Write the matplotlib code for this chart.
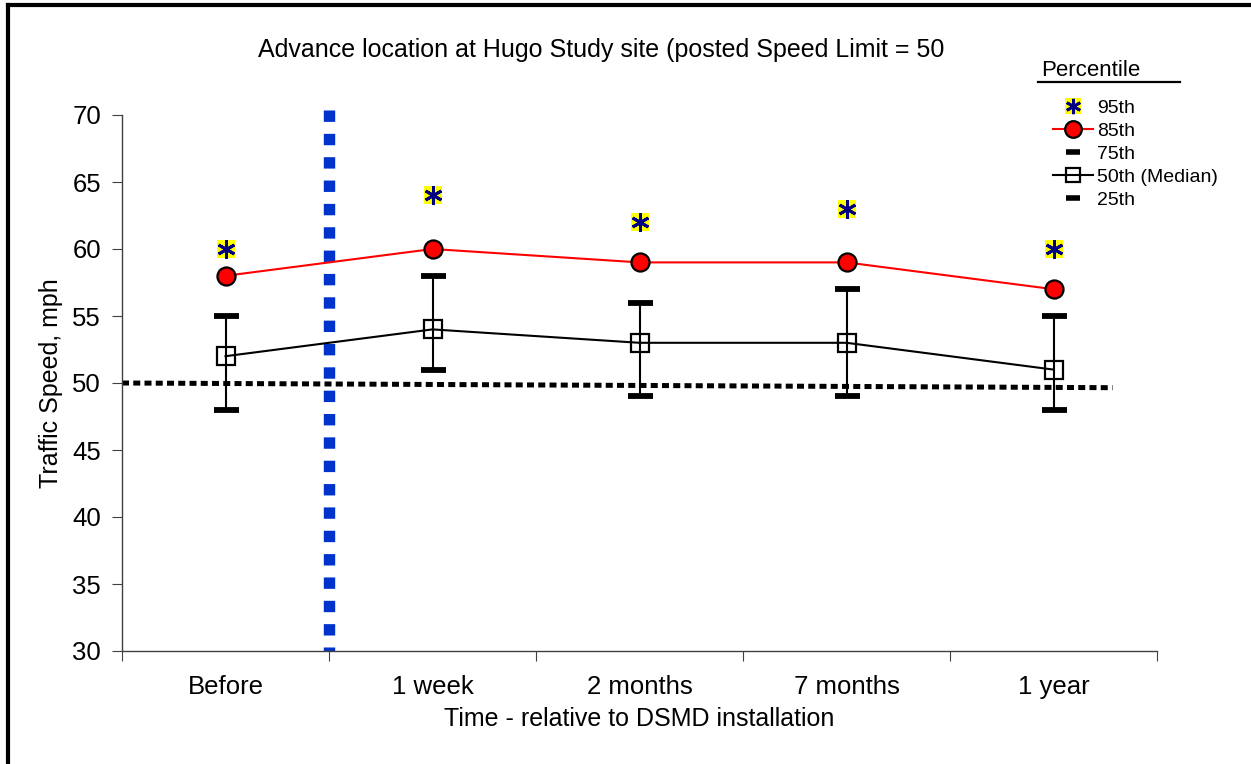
import matplotlib
matplotlib.use("Agg")
import matplotlib.pyplot as plt
from matplotlib.lines import Line2D
from matplotlib.legend_handler import HandlerTuple

categories = ["Before", "1 week", "2 months", "7 months", "1 year"]
p95 = [60, 64, 62, 63, 60]
p85 = [58, 60, 59, 59, 57]
p75 = [55, 58, 56, 57, 55]
p50 = [52, 54, 53, 53, 51]
p25 = [48, 51, 49, 49, 48]
speed_limit_line_x = [-0.5, 4.285]
speed_limit_line_y = [50.0, 49.65]
install_x = 0.5
install_y = [70.4, 30]

plt.rcParams['font.family'] = ['Liberation Sans', 'DejaVu Sans']

W, H = 1251, 764
fig = plt.figure(figsize=(W / 100, H / 100), dpi=100)
ax = fig.add_axes([122 / W, 1 - 651 / H, (1157 - 122) / W, (651 - 115) / H])

x = list(range(len(categories)))

# reference lines
ax.plot(speed_limit_line_x, speed_limit_line_y, color='black', lw=3.6,
        linestyle=(0, (1.4, 0.85)), solid_capstyle='butt', dash_capstyle='butt', zorder=2)
ax.plot([install_x, install_x], install_y, color='#0033CC', lw=8.2,
        linestyle=(0, (1.0, 1.05)), dash_capstyle='butt', clip_on=False, zorder=2)

# error bars 25th-75th
ax.vlines(x, p25, p75, color='black', lw=1.5, zorder=3)
ax.plot(x, p75, linestyle='none', marker='_', markersize=18, markeredgewidth=4.2,
        color='black', zorder=4)
ax.plot(x, p25, linestyle='none', marker='_', markersize=18, markeredgewidth=4.2,
        color='black', zorder=4)

# median
ax.plot(x, p50, color='black', lw=1.5, marker='s', markersize=12.5,
        markerfacecolor='none', markeredgecolor='black', markeredgewidth=1.6, zorder=5)

# 85th
ax.plot(x, p85, color='red', lw=1.5, marker='o', markersize=13,
        markerfacecolor='red', markeredgecolor='black', markeredgewidth=1.6, zorder=5)

# 95th
ax.plot(x, p95, linestyle='none', marker='s', markersize=13, color='yellow',
        markeredgewidth=0, zorder=5)
ax.plot(x, p95, linestyle='none', marker=(6, 2, 0), markersize=13,
        color='#000080', markeredgewidth=2.1, zorder=6)

ax.set_xlim(-0.5, 4.5)
ax.set_ylim(30, 70)
ax.set_yticks(range(30, 71, 5))
ax.set_xticks([i - 0.5 for i in range(len(categories) + 1)])
ax.set_xticklabels([])
ax.set_xticks(x, minor=True)
ax.set_xticklabels(categories, minor=True)
ax.tick_params(axis='x', which='minor', length=0, pad=17, labelsize=18.5)
ax.tick_params(axis='x', which='major', length=7, direction='out', color='#404040')
ax.tick_params(axis='y', length=7, direction='out', color='#404040', labelsize=18.5, pad=8)

for s in ['top', 'right']:
    ax.spines[s].set_visible(False)
for s in ['left', 'bottom']:
    ax.spines[s].set_color('#404040')
    ax.spines[s].set_linewidth(1.0)

ax.set_ylabel("Traffic Speed, mph", fontsize=18, labelpad=7)
ax.set_xlabel("Time - relative to DSMD installation", fontsize=18, labelpad=6)
fig.text(601 / W, 1 - 50 / H, "Advance location at Hugo Study site (posted Speed Limit = 50",
         ha='center', va='center', fontsize=18)

# legend
h95 = (Line2D([], [], linestyle='none', marker='s', markersize=11, color='yellow', markeredgewidth=0),
       Line2D([], [], linestyle='none', marker=(6, 2, 0), markersize=11, color='#000080', markeredgewidth=2.0))
h85 = Line2D([], [], color='red', lw=1.5, marker='o', markersize=12,
             markerfacecolor='red', markeredgecolor='black', markeredgewidth=1.6)
h75 = Line2D([], [], linestyle='none', marker='_', markersize=10, markeredgewidth=4, color='black')
h50 = Line2D([], [], color='black', lw=1.5, marker='s', markersize=10,
             markerfacecolor='none', markeredgecolor='black', markeredgewidth=1.6)
h25 = Line2D([], [], linestyle='none', marker='_', markersize=10, markeredgewidth=4, color='black')
leg = fig.legend([h95, h85, h75, h50, h25], ["95th", "85th", "75th", "50th (Median)", "25th"],
                 handler_map={tuple: HandlerTuple(ndivide=1, pad=0)},
                 loc='upper left', bbox_to_anchor=(1053 / W, 1 - 99 / H), frameon=False,
                 fontsize=14, handlelength=2.05, handletextpad=0.22, labelspacing=0.28,
                 borderpad=0, borderaxespad=0)
fig.text(1091 / W, 1 - 70 / H, "Percentile", ha='center', va='center', fontsize=16)
fig.add_artist(Line2D([1038 / W, 1180 / W], [1 - 82 / H, 1 - 82 / H], color='black', lw=1.6))

# figure frame (left and top edges)
fig.add_artist(Line2D([8 / W, 8 / W], [0, 1 - 5 / H], color='black', lw=3))
fig.add_artist(Line2D([8 / W, 1], [1 - 5 / H, 1 - 5 / H], color='black', lw=3))

fig.savefig("out.png", dpi=100)
